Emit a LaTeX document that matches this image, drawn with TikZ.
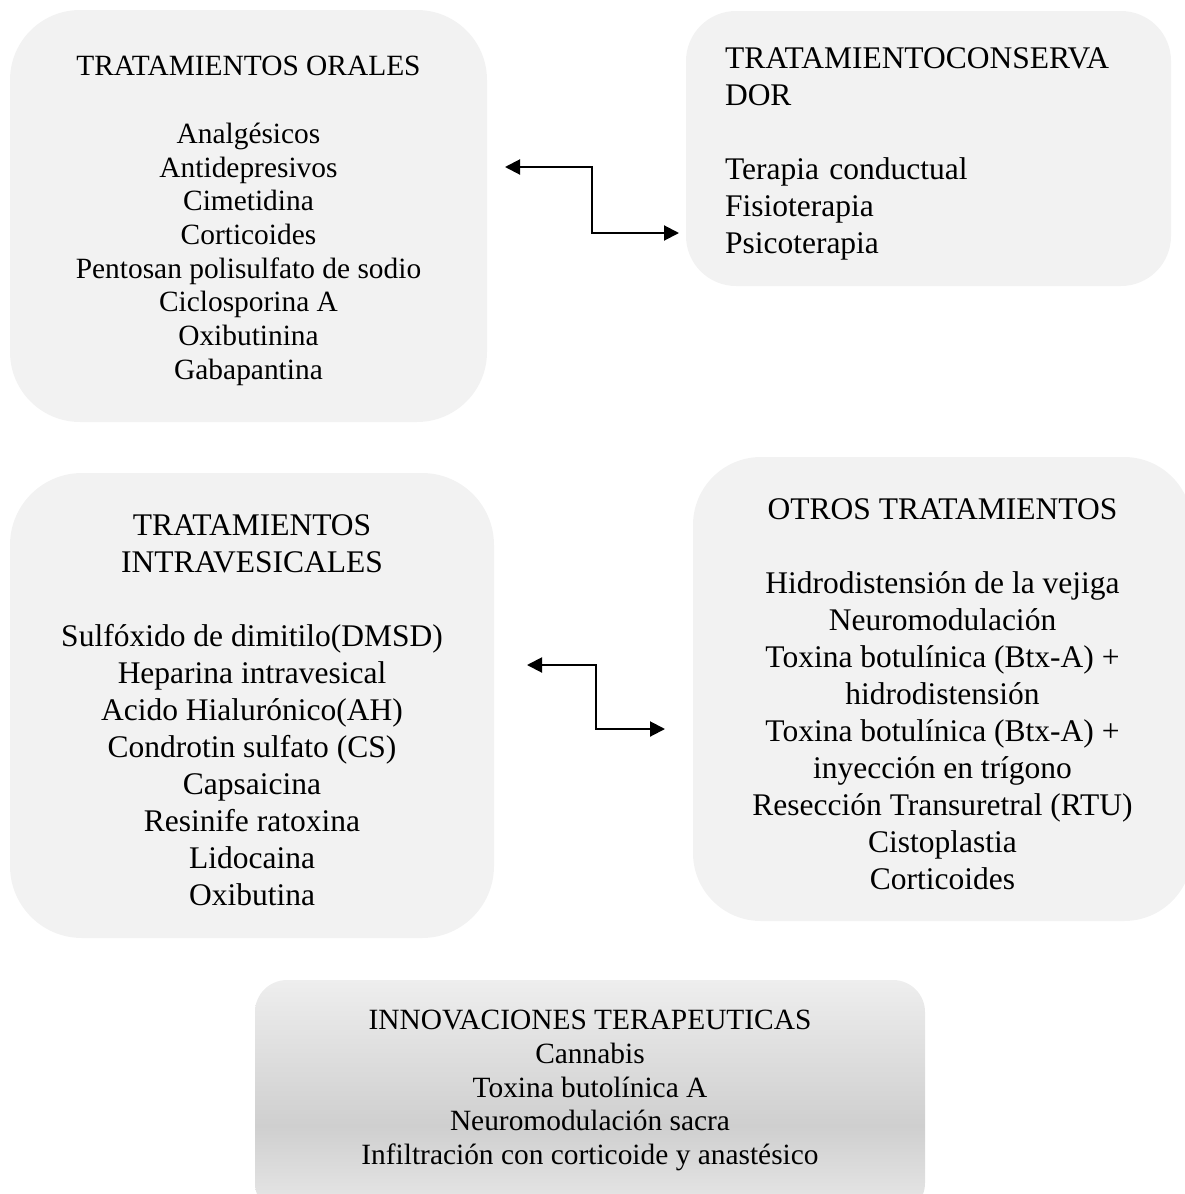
\documentclass[tikz,border=0pt]{standalone}
\usepackage{fontspec}
\setmainfont{Liberation Serif}
\usetikzlibrary{arrows.meta,calc}

\definecolor{boxgray}{HTML}{F2F2F2}
\definecolor{shadetop}{HTML}{EEEEEE}
\definecolor{shademid}{HTML}{CFCFCF}
\definecolor{shadebot}{HTML}{E9E9E9}

% light - dark - light vertical fill, darkest band a little below the middle
\pgfdeclareverticalshading{innov}{100bp}{%
  color(0bp)=(shadebot); color(25bp)=(shadebot);
  color(44bp)=(shademid);
  color(75bp)=(shadetop); color(100bp)=(shadetop)}

\newcommand{\smalltxt}{\fontsize{29.4pt}{33.7pt}\selectfont}
\newcommand{\largetxt}{\fontsize{31.5pt}{37pt}\selectfont}

\tikzset{
  panel/.style={fill=boxgray, draw=none, inner sep=0pt, outer sep=0pt},
  label/.style={inner sep=0pt},
  link/.style={line width=2pt, {Triangle[length=15pt,width=15pt]}-{Triangle[length=15pt,width=15pt]}},
}

\begin{document}
\begin{tikzpicture}[x=1pt, y=-1pt]
\useasboundingbox (0,0) rectangle (1184,1194);

% oral treatments
\node[panel, rounded corners=70pt, minimum width=477pt, minimum height=412pt] (orales) at (248.5,216) {};
\node[label, align=center, font=\smalltxt] (oralestext) at (248.5,221)
  {TRATAMIENTOS ORALES\\[33.7pt]
   Analgésicos\\ Antidepresivos\\ Cimetidina\\ Corticoides\\
   Pentosan polisulfato de sodio\\ Ciclosporina A\\ Oxibutinina\\ Gabapantina};

% conservative treatment
\node[panel, rounded corners=50pt, minimum width=485pt, minimum height=275pt] (conserv) at (928.5,148.5) {};
\node[label, text width=407pt, align=left, font=\largetxt] (conservtext) at (928.5,153.5)
  {TRATAMIENTOCONSERVA\\ DOR\\[37pt]
   Terapia conductual\\ Fisioterapia\\ Psicoterapia};

% intravesical treatments
\node[panel, rounded corners=72pt, minimum width=484pt, minimum height=465pt] (intraves) at (252,705.5) {};
\node[label, align=center, font=\largetxt] (intravestext) at (252,710)
  {TRATAMIENTOS\\ INTRAVESICALES\\[37pt]
   Sulfóxido de dimitilo(DMSD)\\ Heparina intravesical\\ Acido Hialurónico(AH)\\
   Condrotin sulfato (CS)\\ Capsaicina\\ Resinife ratoxina\\ Lidocaina\\ Oxibutina};

% other treatments
\node[panel, rounded corners=68pt, minimum width=499pt, minimum height=464pt] (otros) at (942.5,689) {};
\node[label, align=center, font=\largetxt] (otrostext) at (942.5,694)
  {OTROS TRATAMIENTOS\\[37pt]
   Hidrodistensión de la vejiga\\ Neuromodulación\\
   Toxina botulínica (Btx-A) +\\ hidrodistensión\\
   Toxina botulínica (Btx-A) +\\ inyección en trígono\\
   Resección Transuretral (RTU)\\ Cistoplastia\\ Corticoides};

% therapeutic innovations
\node[shade, shading=innov, draw=none, rounded corners=32pt, inner sep=0pt,
      minimum width=670pt, minimum height=235pt] (innov) at (590,1097.5) {};
\node[label, align=center, font=\smalltxt] (innovtext) at (590,1090.5)
  {INNOVACIONES TERAPEUTICAS\\ Cannabis\\ Toxina butolínica A\\
   Neuromodulación sacra\\ Infiltración con corticoide y anastésico};

% two-way links between the columns
\coordinate (u1) at (505,167);
\coordinate (u2) at (679,233);
\draw[link] (u1) -| ($(u1)!.5!(u2)$) |- (u2);

\coordinate (l1) at (527,665);
\coordinate (l2) at (665,729);
\draw[link] (l1) -| ($(l1)!.5!(l2)$) |- (l2);
\end{tikzpicture}
\end{document}
